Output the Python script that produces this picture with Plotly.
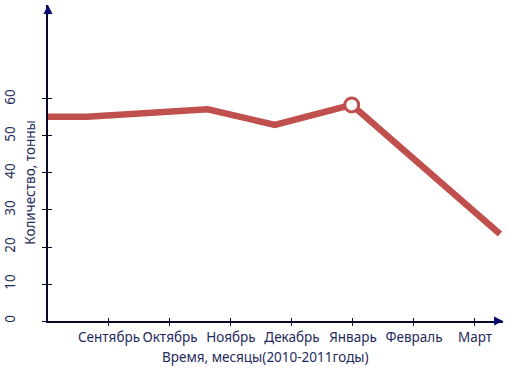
import plotly.graph_objects as go

# Data
months = ["Сентябрь", "Октябрь", "Ноябрь", "Декабрь", "Январь", "Февраль", "Март"]
month_pos = [1, 2, 3, 4, 5, 6, 7]
x_pos = [0, 0.64, 2.62, 3.72, 4.98, 7.41]
values = [55.2, 55.2, 57.2, 53.0, 58.4, 23.5]
y_ticks = [0, 10, 20, 30, 40, 50, 60]
marker_idx = 4

LINE = "#C0504D"
TXT = "#1F2A5C"
AX = "#0A0A2A"

fig = go.Figure()
fig.add_trace(go.Scatter(x=x_pos, y=values, mode="lines",
                         line=dict(color=LINE, width=6.5), hoverinfo="skip"))
fig.add_trace(go.Scatter(x=[x_pos[marker_idx]], y=[values[marker_idx]], mode="markers",
                         marker=dict(size=14, color="white", line=dict(color=LINE, width=3)),
                         hoverinfo="skip"))
fig.add_trace(go.Scatter(x=[None], y=[None], xaxis="x2", yaxis="y2", showlegend=False))

xr = [0, 7.46]
yr = [0, 85.4]
font = dict(family="Noto Sans", size=13.5, color=TXT)

fig.update_layout(
    width=516, height=370,
    margin=dict(l=48, r=13, t=5, b=49),
    paper_bgcolor="white", plot_bgcolor="white",
    showlegend=False,
    xaxis=dict(range=xr, tickvals=month_pos, ticktext=months, showgrid=False, zeroline=False,
               showline=True, linecolor=AX, linewidth=1.5, ticks="outside", ticklen=3,
               tickcolor=AX, tickfont=font, fixedrange=True, automargin=False),
    yaxis=dict(range=yr, tickvals=y_ticks, showgrid=False, zeroline=False,
               showline=True, linecolor=AX, linewidth=1.5, ticks="outside", ticklen=4,
               tickcolor=AX, tickfont=font, tickangle=-90, ticklabelstandoff=22,
               fixedrange=True, automargin=False),
    xaxis2=dict(range=xr, overlaying="x", tickvals=month_pos, showticklabels=False,
                showgrid=False, zeroline=False, ticks="inside", ticklen=3, tickcolor=AX,
                side="bottom", fixedrange=True, automargin=False),
    yaxis2=dict(range=yr, overlaying="y", tickvals=y_ticks, showticklabels=False,
                showgrid=False, zeroline=False, ticks="inside", ticklen=4, tickcolor=AX,
                side="left", fixedrange=True, automargin=False),
)

fig.add_annotation(x=0, y=yr[1], ax=0, ay=yr[1] - 3, xref="x", yref="y", axref="x", ayref="y",
                   showarrow=True, arrowhead=2, arrowsize=1.2, arrowwidth=1.5, arrowcolor="#0A0A6E", text="")
fig.add_annotation(x=xr[1], y=0, ax=xr[1] - 0.15, ay=0, xref="x", yref="y", axref="x", ayref="y",
                   showarrow=True, arrowhead=2, arrowsize=1.2, arrowwidth=1.5, arrowcolor="#0A0A6E", text="")

fig.add_annotation(x=-0.04, y=0.44, xref="paper", yref="paper", text="Количество, тонны",
                   textangle=-90, showarrow=False, font=font, xanchor="center", yanchor="middle")
fig.add_annotation(x=0.477, y=-0.08, xref="paper", yref="paper", text="Время, месяцы(2010-2011годы)",
                   showarrow=False, font=font, xanchor="center", yanchor="top")

fig.write_html("out.html", config={"displayModeBar": False},
               post_script="document.body.style.margin='0';document.body.style.padding='0';")
